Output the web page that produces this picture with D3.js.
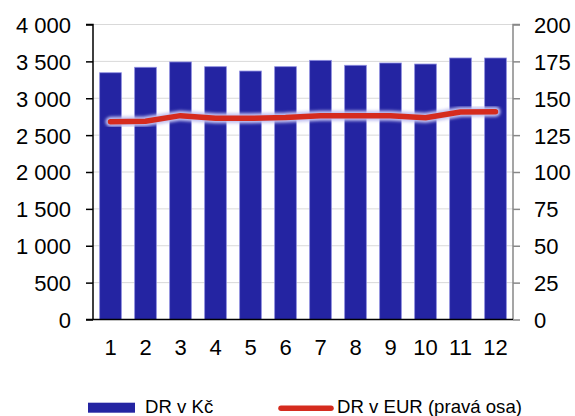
<!DOCTYPE html>
<html>
<head>
<meta charset="utf-8">
<script src="https://cdn.jsdelivr.net/npm/d3@7"></script>
<style>
  body { margin: 0; background: #fff; }
  svg text { font-family: "Liberation Sans", Arial, sans-serif; fill: #000; }
</style>
</head>
<body>
<div class="chart"></div>
<script>
const months = ["1", "2", "3", "4", "5", "6", "7", "8", "9", "10", "11", "12"];
const drKc = [3346, 3420, 3492, 3428, 3369, 3428, 3514, 3447, 3478, 3464, 3546, 3546];
const drEur = [134.1, 134.4, 138.2, 136.4, 136.4, 137.0, 138.2, 138.2, 138.2, 136.8, 140.7, 140.9];
const leftTicks = [0, 500, 1000, 1500, 2000, 2500, 3000, 3500, 4000];
const rightTicks = [0, 25, 50, 75, 100, 125, 150, 175, 200];
const legendNames = ["DR v Kč", "DR v EUR (pravá osa)"];

const width = 575;
const height = 416;
const marginTop = 24.5;
const marginRight = 62;
const marginBottom = 96.5;
const marginLeft = 93;

const x = d3.scaleBand()
    .domain(months)
    .range([marginLeft, width - marginRight])
    .paddingInner(0.38)
    .paddingOuter(0.19);

const y = d3.scaleLinear()
    .domain([0, 4000])
    .range([height - marginBottom, marginTop]);

const y2 = d3.scaleLinear()
    .domain([0, 200])
    .range([height - marginBottom, marginTop]);

const fmt = d => d3.format(",")(d).replace(/,/g, " ");

const svg = d3.select(".chart").append("svg")
    .attr("width", width)
    .attr("height", height);

const defs = svg.append("defs");
defs.append("filter")
    .attr("id", "glow")
    .attr("x", "-10%").attr("y", "-50%")
    .attr("width", "120%").attr("height", "200%")
    .append("feGaussianBlur")
    .attr("stdDeviation", 1.4);

// gridlines
svg.append("g")
    .selectAll("line")
    .data(leftTicks.slice(1))
    .join("line")
    .attr("x1", marginLeft)
    .attr("x2", width - marginRight)
    .attr("y1", d => y(d))
    .attr("y2", d => y(d))
    .attr("stroke", "#d9d9d9")
    .attr("stroke-width", 1);

// bars
svg.append("g")
    .selectAll("rect")
    .data(drKc)
    .join("rect")
    .attr("x", (d, i) => x(months[i]))
    .attr("y", d => y(d))
    .attr("width", x.bandwidth())
    .attr("height", d => y(0) - y(d))
    .attr("fill", "#2424a2")
    .attr("stroke", "#8c8ce0")
    .attr("stroke-width", 0.8);

// line with glow
const line = d3.line()
    .x((d, i) => x(months[i]) + x.bandwidth() / 2)
    .y(d => y2(d));

svg.append("path")
    .datum(drEur)
    .attr("d", line)
    .attr("fill", "none")
    .attr("stroke", "#c4c4f2")
    .attr("stroke-width", 10)
    .attr("stroke-linecap", "round")
    .attr("stroke-linejoin", "round")
    .attr("filter", "url(#glow)");

svg.append("path")
    .datum(drEur)
    .attr("d", line)
    .attr("fill", "none")
    .attr("stroke", "#d52b1e")
    .attr("stroke-width", 5.5)
    .attr("stroke-linecap", "round")
    .attr("stroke-linejoin", "round");

// left axis
const leftAxis = svg.append("g")
    .attr("transform", `translate(${marginLeft},0)`)
    .call(d3.axisLeft(y).tickValues(leftTicks).tickFormat(fmt).tickSize(7).tickPadding(15));
leftAxis.select(".domain").attr("stroke", "#000").attr("stroke-width", 1.5)
    .attr("d", `M-7,${y(4000)}H0V${y(0)}`);
leftAxis.selectAll(".tick line").attr("stroke", "#000").attr("stroke-width", 1.5);
leftAxis.selectAll("text").style("font-size", "22px").attr("dy", "0.36em");

// right axis
const rightAxis = svg.append("g")
    .attr("transform", `translate(${width - marginRight},0)`)
    .call(d3.axisRight(y2).tickValues(rightTicks).tickSize(7).tickPadding(14));
rightAxis.select(".domain").attr("stroke", "#888").attr("stroke-width", 1.5)
    .attr("d", `M7,${y2(200)}H0V${y2(0)}`);
rightAxis.selectAll(".tick line").attr("stroke", "#888").attr("stroke-width", 1.5);
rightAxis.selectAll("text").style("font-size", "22px").attr("dy", "0.36em");

// bottom axis
const bottomAxis = svg.append("g")
    .attr("transform", `translate(0,${y(0)})`)
    .call(d3.axisBottom(x).tickSize(0).tickPadding(20));
bottomAxis.select(".domain").attr("stroke", "#000").attr("stroke-width", 1.5)
    .attr("d", `M${marginLeft - 7},0H${width - marginRight}`);
bottomAxis.selectAll("text").style("font-size", "22px").attr("dy", "0.71em");

// legend
const legend = svg.append("g");
legend.append("rect")
    .attr("x", 88).attr("y", 402.7)
    .attr("width", 47).attr("height", 10)
    .attr("fill", "#2424a2");
legend.append("text")
    .attr("x", 145).attr("y", 413.3)
    .style("font-size", "18.6px")
    .text(legendNames[0]);
legend.append("line")
    .attr("x1", 281).attr("x2", 331)
    .attr("y1", 408.3).attr("y2", 408.3)
    .attr("stroke", "#d52b1e")
    .attr("stroke-width", 5.5)
    .attr("stroke-linecap", "round");
legend.append("text")
    .attr("x", 337).attr("y", 413.3)
    .style("font-size", "18.6px")
    .text(legendNames[1]);
</script>
</body>
</html>
